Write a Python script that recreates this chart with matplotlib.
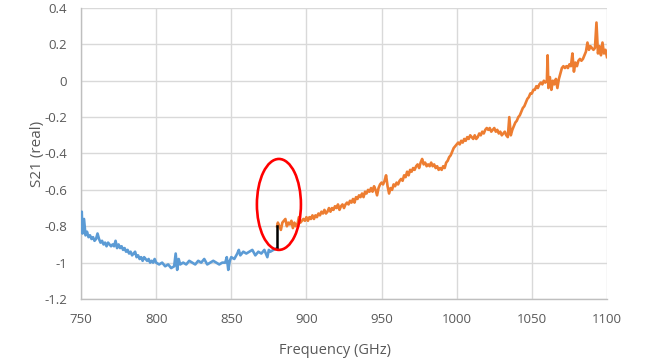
import matplotlib
matplotlib.use('Agg')
import matplotlib.pyplot as plt
import matplotlib.patches as patches

plt.rcParams['font.family'] = ['Open Sans', 'DejaVu Sans']

# Blue segment (below ~880 GHz)
blue_f = ([750, 750.5] + list(range(751, 801)) +
          [802, 804, 806, 808, 810, 812, 813, 814, 815, 816, 818, 820, 822, 824, 826, 828,
           830, 832, 834, 836, 838, 840, 842, 844, 846, 847, 848, 849, 850, 852, 854, 855,
           856, 858, 860, 862, 864, 866, 868, 870, 872, 874, 875, 876, 878, 880.5])
blue_v = [-0.80, -0.72,
          -0.84, -0.76, -0.85, -0.83, -0.86, -0.85, -0.87, -0.86, -0.88,       # 751-759
          -0.87, -0.84, -0.87, -0.89, -0.88, -0.90, -0.89, -0.91, -0.89, -0.90, # 760s
          -0.91, -0.90, -0.91, -0.88, -0.92, -0.90, -0.92, -0.91, -0.93, -0.92, # 770s
          -0.94, -0.93, -0.95, -0.94, -0.96, -0.95, -0.94, -0.97, -0.96, -0.98, # 780s
          -0.97, -0.99, -0.97, -0.98, -0.99, -0.98, -1.00, -0.99, -1.00, -0.98, # 790s
          -1.00,
          -1.01, -1.00, -1.02, -1.01, -1.03, -1.02, -0.95, -1.04, -0.98, -1.01, -1.00,
          -1.01, -0.99, -1.00, -1.01, -0.99, -1.00, -0.98, -1.01, -1.00, -0.99, -1.00,
          -1.01, -1.00, -1.00, -0.97, -1.04, -0.99, -0.97, -0.98, -0.95, -0.93, -0.96,
          -0.94, -0.95, -0.94, -0.93, -0.96, -0.94, -0.95, -0.93, -0.97, -0.93, -0.94,
          -0.93, -0.92]

# Orange segment (above ~880 GHz)
orange_f = [880.5] + list(range(881, 1061)) + [1060.5] + list(range(1061, 1101))
orange_v = [-0.80,
            -0.78, -0.80, -0.82, -0.78, -0.77, -0.76, -0.80, -0.78, -0.79,         # 881-889
            -0.77, -0.81, -0.78, -0.80, -0.79, -0.75, -0.78, -0.77, -0.76, -0.77,  # 890s
            -0.75, -0.77, -0.75, -0.76, -0.74, -0.76, -0.74, -0.75, -0.73, -0.74,  # 900s
            -0.72, -0.73, -0.71, -0.73, -0.72, -0.70, -0.72, -0.70, -0.71, -0.69,  # 910s
            -0.70, -0.68, -0.71, -0.69, -0.68, -0.70, -0.68, -0.67, -0.68, -0.66,  # 920s
            -0.67, -0.65, -0.67, -0.64, -0.65, -0.63, -0.64, -0.62, -0.64, -0.61,  # 930s
            -0.62, -0.60, -0.61, -0.59, -0.61, -0.58, -0.60, -0.63, -0.59, -0.57,  # 940s
            -0.56, -0.57, -0.55, -0.52, -0.58, -0.62, -0.59, -0.60, -0.57, -0.58,  # 950s
            -0.56, -0.57, -0.55, -0.54, -0.55, -0.52, -0.53, -0.50, -0.52, -0.49,  # 960s
            -0.50, -0.48, -0.49, -0.47, -0.46, -0.48, -0.45, -0.43, -0.46, -0.45,  # 970s
            -0.47, -0.46, -0.47, -0.45, -0.47, -0.46, -0.48, -0.47, -0.49, -0.48,  # 980s
            -0.49, -0.47, -0.48, -0.45, -0.44, -0.42, -0.41, -0.39, -0.37, -0.36,  # 990s
            -0.35, -0.34, -0.35, -0.33, -0.34, -0.32, -0.33, -0.31, -0.32, -0.30,  # 1000s
            -0.31, -0.32, -0.30, -0.32, -0.31, -0.29, -0.30, -0.28, -0.29, -0.27,  # 1010s
            -0.26, -0.27, -0.26, -0.28, -0.27, -0.26, -0.28, -0.27, -0.29, -0.28,  # 1020s
            -0.30, -0.29, -0.28, -0.30, -0.31, -0.20, -0.30, -0.27, -0.25, -0.23,  # 1030s
            -0.22, -0.20, -0.19, -0.17, -0.15, -0.14, -0.12, -0.10, -0.09, -0.07,  # 1040s
            -0.07, -0.05, -0.05, -0.03, -0.04, -0.02, -0.01, -0.02, 0.00, -0.01,   # 1050s
            0.00, 0.14,                                                            # 1060, 1060.5
            -0.04, 0.02, -0.05, 0.00, -0.02, 0.01, -0.04, 0.01, 0.04,              # 1061-1069
            0.07, 0.08, 0.07, 0.08, 0.07, 0.09, 0.08, 0.15, 0.05, 0.10,            # 1070s
            0.08, 0.11, 0.12, 0.11, 0.12, 0.14, 0.16, 0.21, 0.17, 0.19,            # 1080s
            0.18, 0.17, 0.18, 0.32, 0.15, 0.19, 0.14, 0.21, 0.15, 0.17,            # 1090s
            0.13]

# Black jump between the two segments
jump_f = [880.5, 880.5]
jump_v = [-0.92, -0.80]

x_ticks = [750, 800, 850, 900, 950, 1000, 1050, 1100]
y_ticks = [-1.2, -1.0, -0.8, -0.6, -0.4, -0.2, 0.0, 0.2, 0.4]
y_labels = ['-1.2', '-1', '-0.8', '-0.6', '-0.4', '-0.2', '0', '0.2', '0.4']

fig = plt.figure(figsize=(6.48, 3.63), dpi=100)
ax = fig.add_axes([0.125, 0.1763, 0.8117, 0.8017])

ax.plot(blue_f, blue_v, color='#5B9BD5', linewidth=1.9, zorder=3)
ax.plot(orange_f, orange_v, color='#ED7D31', linewidth=1.9, zorder=3)
ax.plot(jump_f, jump_v, color='black', linewidth=1.8, zorder=4)

ax.add_patch(patches.Ellipse((881.7, -0.68), 29.3, 0.5, fill=False,
                             edgecolor='#FF0000', linewidth=1.9, zorder=5))

ax.set_xlim(750, 1100)
ax.set_ylim(-1.2, 0.4)
ax.set_xticks(x_ticks)
ax.set_yticks(y_ticks)
ax.set_yticklabels(y_labels)
ax.grid(True, color='#D9D9D9', linewidth=1.0, zorder=0)
ax.set_axisbelow(True)
ax.tick_params(axis='both', length=0, labelsize=9.5, labelcolor='#595959', pad=10)

for s in ['top', 'right']:
    ax.spines[s].set_visible(False)
for s in ['left', 'bottom']:
    ax.spines[s].set_color('#BFBFBF')
    ax.spines[s].set_linewidth(1.0)

ax.set_xlabel('Frequency (GHz)', fontsize=10.5, color='#595959')
ax.set_ylabel('S21 (real)', fontsize=11, color='#595959')
ax.xaxis.set_label_coords(0.483, -0.15)
ax.yaxis.set_label_coords(-0.068, 0.5)

plt.savefig('out.png', dpi=100)
